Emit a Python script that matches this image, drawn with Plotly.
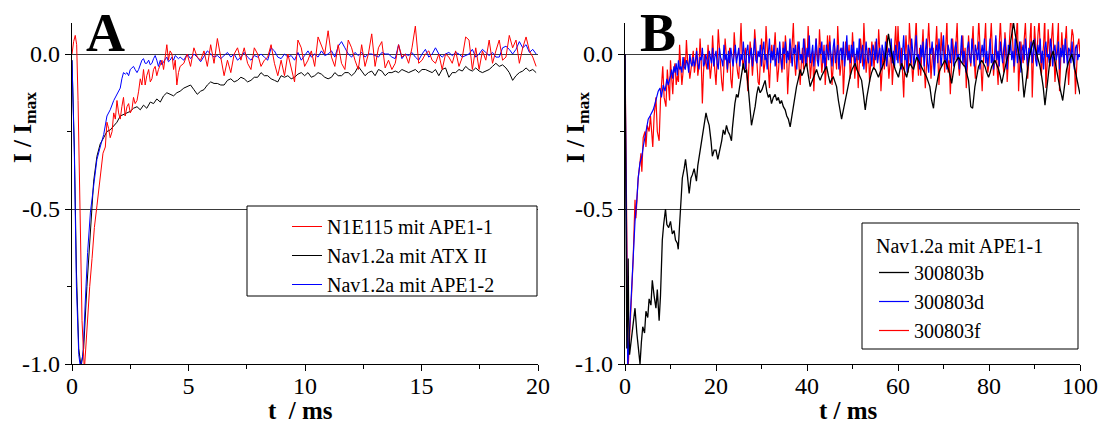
import plotly.graph_objects as go

W, H = 1103, 428
# ---------------- Panel A data ----------------
red_a_t_early = [0, 0.07, 0.14, 0.2, 0.26, 0.33, 0.43, 0.53, 0.6, 0.68,
                 0.76, 0.86, 0.96, 1.07, 1.19, 1.26, 1.33, 1.43, 1.5, 1.57,
                 1.64, 1.72, 1.79, 1.86, 1.93, 2.0, 2.07, 2.14, 2.21, 2.28,
                 2.36, 2.43, 2.5, 2.57, 2.64, 2.71, 2.79, 2.86, 2.93, 3.0,
                 3.07, 3.14, 3.21, 3.29, 3.36, 3.43, 3.5, 3.57, 3.64, 3.71,
                 3.79, 3.86, 3.93, 4.0, 4.07, 4.14, 4.21, 4.29, 4.36, 4.43,
                 4.5, 4.57, 4.64]
red_a_v_early = [0.0, 0.04, 0.06, 0.03, -0.15, -0.5, -0.86, -1.02, -0.93, -0.82,
                 -0.75, -0.66, -0.56, -0.49, -0.41, -0.38, -0.32, -0.3, -0.22, -0.24,
                 -0.27, -0.25, -0.19, -0.21, -0.15, -0.19, -0.21, -0.17, -0.14, -0.2,
                 -0.17, -0.16, -0.19, -0.18, -0.14, -0.16, -0.15, -0.12, -0.08, -0.1,
                 -0.05, -0.1, -0.07, -0.05, -0.09, -0.08, -0.05, -0.04, -0.07, -0.05,
                 -0.03, -0.02, -0.05, -0.01, 0.03, -0.02, 0.01, 0.0, -0.05, -0.02,
                 -0.1, -0.06, -0.04]
red_a_v_late = [-0.03, 0.00, -0.04, 0.02, -0.01, -0.02, 0.01, -0.04, 0.03, -0.03,
                0.05, -0.01, -0.07, -0.02, -0.06, 0.00, 0.02, -0.02, 0.02, -0.03,
                -0.05, 0.02, 0.00, -0.04, -0.02, -0.01, 0.03, -0.03, -0.07, -0.02,
                -0.07, 0.00, -0.05, -0.09, 0.045, 0.02, -0.04, -0.02, 0.01, -0.04,
                0.055, 0.03, 0.00, 0.075, -0.01, -0.04, 0.03, -0.03, -0.05, 0.045,
                0.02, -0.02, -0.05, 0.03, -0.04, 0.00,
                0.065, -0.04, 0.02, 0.04, -0.045, -0.02, -0.05, -0.03, 0.03, -0.01,
                0.00, -0.03, 0.02, 0.09, -0.03, -0.02, 0.00, 0.01, -0.02, -0.03,
                0.00, -0.05, 0.00, -0.01, -0.03, 0.01, -0.04, -0.01, 0.055, 0.045,
                -0.05, 0.02, -0.05, 0.01, -0.02, 0.045, -0.03, 0.01, 0.045, -0.02,
                -0.01, 0.06, 0.02, 0.045, -0.03, 0.02, 0.055, 0.01, -0.01, -0.04]

blk_a_t_early = [0, 0.1, 0.19, 0.29, 0.39, 0.5, 0.64, 0.79, 0.93, 1.07,
                 1.21, 1.36, 1.5, 1.64, 1.79, 1.93, 2.07, 2.21, 2.36, 2.5,
                 2.64, 2.79, 2.93, 3.07, 3.21, 3.36, 3.5, 3.64, 3.79, 3.93,
                 4.07, 4.21, 4.36, 4.5, 4.64]
blk_a_v_early = [-0.02, -0.3, -0.7, -0.95, -1.01, -0.95, -0.75, -0.56, -0.41, -0.33,
                 -0.29, -0.27, -0.25, -0.245, -0.23, -0.22, -0.2, -0.195, -0.19, -0.185,
                 -0.175, -0.17, -0.18, -0.165, -0.175, -0.155, -0.16, -0.145, -0.155, -0.135,
                 -0.125, -0.13, -0.135, -0.125, -0.12]
blk_a_v_late = [-0.11, -0.105, -0.10, -0.115, -0.13, -0.12, -0.115, -0.10, -0.09, -0.095,
                -0.095, -0.10, -0.10, -0.085, -0.08, -0.09, -0.085, -0.075, -0.08, -0.09,
                -0.085, -0.075, -0.075, -0.06, -0.07, -0.07, -0.08, -0.085, -0.09, -0.07,
                -0.075, -0.07, -0.08, -0.075, -0.065, -0.06, -0.07, -0.06, -0.075, -0.07,
                -0.06, -0.065, -0.075, -0.08, -0.075, -0.06, -0.07, -0.07, -0.06, -0.06,
                -0.07, -0.06, -0.04, -0.055, -0.07, -0.06,
                -0.055, -0.07, -0.05, -0.055, -0.07, -0.06, -0.06, -0.055, -0.06, -0.05,
                -0.055, -0.06, -0.055, -0.05, -0.06, -0.05, -0.05, -0.055, -0.06, -0.05,
                -0.07, -0.05, -0.045, -0.075, -0.06, -0.06, -0.05, -0.055, -0.04, -0.05,
                -0.055, -0.045, -0.055, -0.06, -0.055, -0.05, -0.04, -0.03, -0.04, -0.035,
                -0.045, -0.06, -0.085, -0.07, -0.06, -0.055, -0.045, -0.055, -0.05, -0.06]

blu_a_t_early = [0, 0.1, 0.19, 0.29, 0.36, 0.47, 0.57, 0.67, 0.79, 0.93,
                 1.07, 1.21, 1.36, 1.5, 1.64, 1.79, 1.93, 2.07, 2.14, 2.21,
                 2.29, 2.36, 2.43, 2.5, 2.57, 2.64, 2.71, 2.79, 2.86, 2.93,
                 3.0, 3.07, 3.14, 3.21, 3.29, 3.36, 3.43, 3.5, 3.57, 3.64,
                 3.71, 3.79, 3.86, 3.93, 4.0, 4.07, 4.14, 4.21, 4.29, 4.36,
                 4.43, 4.5, 4.57, 4.64]
blu_a_v_early = [-0.02, -0.32, -0.75, -0.97, -1.01, -0.97, -0.8, -0.64, -0.51, -0.43,
                 -0.34, -0.3, -0.26, -0.2, -0.18, -0.15, -0.13, -0.11, -0.08, -0.06,
                 -0.065, -0.06, -0.07, -0.05, -0.045, -0.04, -0.05, -0.06, -0.05, -0.035,
                 -0.02, -0.015, -0.03, -0.03, -0.02, -0.035, -0.03, -0.015, -0.005, -0.02,
                 -0.04, -0.02, -0.035, -0.025, -0.015, -0.01, -0.025, -0.02, -0.01, -0.02,
                 -0.005, -0.01, -0.015, -0.01]
blu_a_v_late = [-0.02, 0.00, -0.015, 0.00, -0.01, -0.025, -0.005, 0.01, 0.00, -0.01,
                -0.005, -0.015, -0.005, 0.005, -0.01, 0.00, -0.02, -0.01, 0.005, -0.01,
                -0.02, -0.005, -0.01, 0.00, -0.01, -0.02, 0.02, 0.01, -0.01, -0.015,
                0.00, -0.01, -0.005, -0.02, 0.005, -0.02, -0.005, 0.01, -0.01, 0.00,
                -0.01, 0.01, -0.005, 0.00, 0.01, -0.01, 0.025, 0.04, 0.02, 0.00,
                -0.01, 0.005, -0.005, 0.005, -0.01, 0.00,
                0.00, -0.005, -0.01, 0.005, 0.00, 0.00, -0.01, -0.015, 0.03, -0.015,
                0.00, -0.005, 0.005, -0.01, -0.02, 0.00, 0.015, -0.01, 0.00, 0.02,
                0.00, -0.01, 0.00, 0.005, -0.005, 0.005, 0.00, -0.01, -0.005, 0.00,
                0.015, -0.01, 0.00, 0.015, 0.005, -0.005, 0.005, -0.01, -0.01, 0.02,
                0.025, 0.015, 0.00, 0.015, 0.04, 0.02, 0.03, 0.005, 0.015, 0.00]

A_LATE_T0, A_LATE_DT = 4.8, 0.144   # sampling of the later part of the A records

# ---------------- Panel B data ----------------
blk_b_t = [0, 0.2, 0.4, 0.6, 0.7, 0.8, 1.0, 1.4, 1.8, 2.2,
           2.6, 3.0, 3.3, 3.6, 3.9, 4.3, 4.6, 5.0, 5.3, 5.7,
           6.0, 6.4, 6.8, 7.1, 7.5, 7.8, 8.2, 8.5, 8.9, 9.2,
           9.6, 10.0, 10.4, 10.8, 11.1, 11.5, 11.7, 12.0, 12.2, 12.6,
           13.0, 13.3, 13.7, 14.1, 14.5, 14.8, 15.2, 15.7, 16.0, 16.3,
           16.7, 17.0, 17.4, 17.8, 18.1, 18.5, 18.9, 19.2, 19.6, 20.0,
           20.4, 20.9,
           21.25, 21.6, 21.95, 22.3, 22.65, 23.0, 23.4, 23.6, 23.8, 24.15,
           24.5, 24.85, 25.2, 25.6, 26.0, 26.35, 26.7, 27.1, 27.5, 27.8,
           28.2, 28.6, 28.95, 29.3, 29.7, 30.1, 30.45, 30.8, 31.15, 31.5,
           31.85, 32.2, 32.6, 33.0, 33.35, 33.7, 34.05, 34.4, 34.8, 35.2,
           35.55, 35.9, 36.3, 36.65, 37.0, 37.35, 37.7, 38.1, 38.5, 38.85,
           39.2, 39.55, 39.9, 40.3, 40.7, 41.05, 41.4, 41.75, 42.1, 42.5,
           42.9, 43.25, 43.6, 43.95, 44.3, 44.7, 45.1, 45.45, 45.8, 46.15,
           46.5, 46.9, 47.3, 47.6, 48.0, 48.4, 48.75, 49.1, 49.5, 49.9,
           50.25, 50.6, 50.95, 51.3, 51.65, 52.0, 52.4, 52.8, 53.15, 53.5,
           53.85, 54.2, 54.6, 55.0, 55.35, 55.7, 56.05, 56.4, 56.75, 57.1,
           57.5, 57.9, 58.25, 58.6, 59.0, 59.4, 59.75, 60.1, 60.45, 60.8,
           61.2, 61.55, 61.9, 62.25, 62.6, 63.0, 63.4, 63.75, 64.1, 64.45,
           64.8, 65.2, 65.6, 65.95, 66.3, 66.65, 67.0, 67.4, 67.8, 68.1,
           68.5, 68.9, 69.25, 69.6, 69.95, 70.3, 70.7, 71.1, 71.45, 71.8,
           72.15, 72.5, 72.9, 73.3, 73.65, 74.0, 74.35, 74.7, 75.1, 75.5,
           76.0, 76.4, 76.9, 77.3, 77.7, 78.05, 78.4, 78.75, 79.1, 79.5,
           79.9, 80.25, 80.6, 80.95, 81.3, 81.7, 82.1, 82.45, 82.8, 83.15,
           83.5, 83.9, 84.3, 84.65, 85.0, 85.4, 85.75, 86.1, 86.5, 86.85,
           87.2, 87.7, 88.0, 88.3, 88.65, 89.0, 89.4, 89.8, 90.15, 90.5,
           90.85, 91.2, 91.55, 91.9, 92.3, 92.8, 93.1, 93.4, 93.75, 94.1,
           94.45, 94.8, 95.2, 95.6, 96.2, 96.7, 97.05, 97.4, 97.8, 98.2,
           98.55, 98.9, 99.25, 99.6, 100.0]
blk_b_v = [0.0, -0.5, -0.95, -0.8, -0.66, -0.85, -0.97, -0.92, -0.86, -0.82,
           -0.9, -0.96, -1.0, -0.93, -0.88, -0.9, -0.83, -0.85, -0.79, -0.81,
           -0.73, -0.78, -0.82, -0.76, -0.86, -0.78, -0.6, -0.55, -0.5, -0.55,
           -0.56, -0.54, -0.58, -0.57, -0.6, -0.61, -0.63, -0.55, -0.5, -0.4,
           -0.37, -0.34, -0.39, -0.45, -0.4, -0.39, -0.37, -0.41, -0.36, -0.33,
           -0.3, -0.26, -0.22, -0.19, -0.21, -0.23, -0.28, -0.33, -0.31, -0.31,
           -0.34, -0.31,
           -0.28, -0.245, -0.26, -0.23, -0.25, -0.26, -0.28, -0.24, -0.2, -0.16,
           -0.13, -0.14, -0.105, -0.07, -0.03, -0.06, -0.05, -0.11, -0.18, -0.23,
           -0.2, -0.17, -0.13, -0.105, -0.125, -0.115, -0.1, -0.085, -0.12, -0.14,
           -0.13, -0.16, -0.14, -0.13, -0.15, -0.14, -0.16, -0.15, -0.17, -0.18,
           -0.2, -0.21, -0.235, -0.2, -0.16, -0.13, -0.105, -0.08, -0.05, -0.07,
           -0.06, -0.04, -0.03, -0.07, -0.105, -0.09, -0.075, -0.06, -0.05, -0.07,
           -0.085, -0.07, -0.06, -0.05, -0.04, -0.07, -0.095, -0.08, -0.075, -0.09,
           -0.105, -0.15, -0.19, -0.21, -0.18, -0.15, -0.12, -0.105, -0.07, -0.05,
           -0.04, -0.03, -0.05, -0.06, -0.075, -0.085, -0.13, -0.18, -0.14, -0.105,
           -0.08, -0.06, -0.045, -0.05, -0.065, -0.075, -0.06, -0.05, -0.035, -0.02,
           0.03, 0.065, 0.03, 0.0, -0.03, -0.05, -0.065, -0.075, -0.05, -0.03,
           -0.045, -0.06, -0.075, -0.05, -0.03, -0.04, -0.05, -0.03, -0.01, -0.02,
           -0.03, -0.04, -0.05, -0.06, -0.075, -0.09, -0.105, -0.15, -0.175, -0.13,
           -0.09, -0.065, -0.05, -0.04, -0.03, -0.02, -0.035, -0.05, -0.07, -0.095,
           -0.06, -0.03, -0.02, -0.01, -0.02, -0.03, -0.035, -0.04, -0.06, -0.085,
           -0.17, -0.175, -0.105, -0.07, -0.04, -0.03, -0.02, -0.03, -0.04, -0.06,
           -0.075, -0.06, -0.04, -0.03, -0.02, -0.035, -0.05, -0.07, -0.095, -0.07,
           -0.04, -0.02, 0.0, 0.03, 0.065, 0.1, 0.065, 0.04, 0.01, -0.02,
           -0.05, -0.14, -0.1, -0.065, -0.03, 0.0, 0.02, 0.045, 0.02, 0.0,
           -0.02, -0.04, -0.07, -0.105, -0.165, -0.095, -0.05, -0.02, -0.005, 0.01,
           -0.02, -0.05, -0.08, -0.11, -0.15, -0.085, -0.05, -0.03, -0.015, 0.0,
           -0.025, -0.05, -0.08, -0.105, -0.13]

blu_b_t_early = [0, 0.2, 0.4, 0.6, 0.8, 1.1, 1.5, 1.8, 2.2, 2.6,
                 2.9, 3.3, 3.7, 4.0, 4.4, 4.8, 5.1, 5.5, 5.9, 6.2,
                 6.6, 7.0, 7.3, 7.7, 8.0, 8.4, 8.8, 9.2, 9.5]
blu_b_v_early = [0.0, -0.3, -0.8, -1.01, -0.95, -0.86, -0.75, -0.64, -0.54, -0.47,
                 -0.4, -0.35, -0.33, -0.3, -0.27, -0.23, -0.21, -0.2, -0.19, -0.18,
                 -0.16, -0.14, -0.12, -0.11, -0.14, -0.1, -0.12, -0.08, -0.1]
blu_b_v_late = [-0.07, -0.05, -0.08, -0.04, -0.06, -0.03, -0.07, -0.02, -0.05, -0.04, -0.06, -0.01, -0.04, -0.05, -0.02, -0.03, -0.06, 0.0, -0.03, -0.04,
                -0.01, -0.04, -0.02, 0.01, -0.03, -0.05, -0.01, -0.02, 0.02, -0.04, -0.03, 0.0, -0.02, -0.05, 0.01, -0.01, -0.03, 0.02, -0.04, -0.01,
                0.01, -0.03, -0.05, 0.02, -0.01, -0.02, -0.04, 0.03, -0.02, 0.0, -0.05, 0.01, -0.03, 0.02, -0.01, -0.04, 0.0, 0.03, -0.03, -0.01,
                0.02, -0.04, 0.0, -0.02, 0.04, -0.01, -0.05, 0.01, 0.03, -0.03, -0.01, 0.02, -0.04, 0.0, 0.05, -0.02, -0.03, 0.01, -0.01, 0.03,
                -0.04, 0.01, 0.04, -0.02, 0.0, -0.05, 0.02, 0.05, -0.03, 0.01, -0.02, 0.03, -0.04, 0.0, 0.02, -0.03, 0.04, -0.01, -0.05, 0.02,
                0.0, 0.04, -0.03, 0.01, -0.02, 0.05, -0.01, -0.04, 0.02, 0.0, 0.03, -0.05, 0.01, 0.04, -0.02, 0.0, -0.03, 0.05, 0.01, -0.04,
                0.02, -0.01, 0.06, -0.03, 0.0, 0.03, -0.04, 0.01, 0.05, -0.02, -0.04, 0.02, 0.0, 0.04, -0.03, 0.01, -0.05, 0.03, 0.0, -0.02,
                0.04, -0.01, -0.04, 0.02, 0.05, -0.03, 0.0, 0.03, -0.05, 0.01, 0.02, -0.02, 0.04, -0.04, 0.0, 0.06, -0.02, 0.01, -0.03, 0.03,
                -0.01, 0.04, -0.04, 0.0, 0.02, -0.02, 0.05, -0.03, 0.01, 0.03, -0.05, 0.0, 0.04, -0.01, -0.03, 0.02, 0.0, -0.04, 0.03, 0.01,
                -0.02, 0.05, -0.03, 0.0, 0.02, -0.05, 0.03, 0.01, -0.02, 0.04, -0.04, 0.0, 0.02, -0.01, 0.05, -0.03, 0.01, -0.04, 0.03, 0.0,
                -0.03, 0.04, 0.01, -0.05, 0.02, 0.06, -0.02, 0.0, -0.06, 0.03, 0.01, -0.03, 0.05, -0.01, -0.04, 0.02, 0.06, -0.02, 0.0, -0.05,
                0.03, -0.01, 0.04, -0.04, 0.01, 0.05, -0.03, -0.06, 0.02, 0.0, 0.04, -0.02, -0.07, 0.01, 0.03, -0.03, 0.05, 0.0, -0.04, 0.02,
                0.06, -0.02, 0.0, -0.05, 0.03, 0.01, -0.03, 0.05, -0.01, -0.04, 0.02, 0.04, -0.02, 0.0, -0.05, 0.03, 0.06, -0.03, 0.01, -0.02,
                -0.06, 0.02, 0.04, -0.01, -0.03, 0.05, 0.0, -0.04, 0.03, 0.01, -0.02, 0.04, -0.05, 0.0, 0.03, -0.01, 0.05, -0.03, 0.01, -0.04,
                0.02, 0.05, -0.03, 0.0, -0.05, 0.03, 0.06, -0.02, 0.01, -0.04, 0.04, 0.0, -0.03, 0.02, 0.05, -0.01, -0.05, 0.03, 0.0, 0.04,
                -0.02, 0.01, -0.04, 0.05, 0.02, -0.03, 0.0, 0.04, -0.06, 0.01, 0.03, -0.02, 0.05, -0.01, -0.04, 0.02, 0.0, 0.04, -0.03, 0.01,
                0.05, -0.02, -0.04, 0.03, 0.0, 0.05, -0.03, 0.01, -0.05, 0.02, 0.04, -0.01, 0.0, -0.03, 0.05, 0.02, -0.04, 0.01, 0.03, -0.02,
                0.0, 0.04, -0.05, 0.02, -0.01, 0.03, -0.03, 0.05, 0.0, -0.04, 0.02, 0.01, -0.03, 0.04, -0.01, -0.05, 0.02, 0.03, -0.02, 0.0,
                -0.01]

red_b_t_early = [0, 0.2, 0.4, 0.5, 0.7, 0.9, 1.2, 1.5, 1.8, 2.2,
                 2.4, 2.7, 2.9, 3.3, 3.5, 3.7, 4.0, 4.4, 4.6, 4.9,
                 5.3, 5.6, 6.1, 6.4, 6.8, 7.1, 7.5, 7.8, 8.3, 8.6,
                 9.0, 9.3, 9.8]
red_b_v_early = [0.0, -0.35, -0.65, -0.8, -1.01, -0.95, -0.85, -0.78, -0.66, -0.47,
                 -0.53, -0.45, -0.4, -0.35, -0.32, -0.38, -0.27, -0.25, -0.3, -0.23,
                 -0.25, -0.2, -0.3, -0.2, -0.14, -0.25, -0.28, -0.15, -0.04, -0.14,
                 -0.17, -0.05, -0.15]
red_b_v_late = [-0.02, -0.09, -0.13, -0.05, -0.03, -0.1, -0.07, -0.09, 0.03, -0.04, -0.1, -0.06, -0.01, -0.05, 0.045, -0.02, -0.04, -0.08, -0.05, -0.02,
                0.01, -0.06, -0.03, 0.02, -0.07, -0.04, 0.05, -0.02, -0.16, -0.06, 0.0, -0.03, -0.05, 0.03, -0.02, -0.08, -0.04, 0.06, -0.01, -0.05,
                -0.1, -0.02, 0.08, 0.02, -0.04, -0.09, -0.12, -0.03, 0.05, 0.0, -0.06, -0.02, 0.02, -0.08, -0.11, -0.04, 0.07, 0.01, -0.03, -0.06,
                -0.08, 0.03, 0.1, -0.01, -0.05, 0.0, 0.02, -0.06, -0.12, -0.03, 0.04, 0.0, -0.07, -0.02, 0.08, 0.03, -0.02, -0.09, -0.1, -0.01,
                0.05, 0.0, -0.06, -0.03, 0.09, 0.02, -0.04, -0.11, -0.02, 0.03, -0.02, 0.01, 0.07, -0.03, -0.09, -0.05, 0.01, -0.02, -0.06, 0.04,
                -0.05, 0.06, 0.01, -0.13, -0.07, 0.02, -0.03, 0.04, 0.1, -0.02, -0.07, -0.01, 0.04, -0.04, -0.1, -0.03, 0.02, -0.05, 0.05, -0.01,
                -0.04, 0.09, 0.02, -0.08, -0.03, 0.01, -0.12, -0.05, 0.05, 0.0, -0.03, 0.08, 0.01, -0.06, -0.02, 0.03, -0.1, -0.04, 0.06, -0.01,
                0.06, -0.02, -0.1, -0.04, 0.03, 0.0, -0.05, 0.09, 0.02, -0.07, -0.03, 0.02, -0.13, -0.06, 0.04, 0.0, -0.02, 0.03, -0.08, -0.03,
                0.07, 0.0, -0.08, -0.02, 0.0, -0.11, -0.04, 0.05, 0.01, -0.04, 0.1, 0.02, -0.06, -0.01, 0.02, -0.09, -0.03, 0.04, 0.0, -0.05,
                0.04, -0.01, -0.03, 0.08, 0.01, -0.12, -0.06, 0.01, -0.05, 0.02, 0.06, -0.02, -0.08, -0.03, 0.03, -0.1, -0.04, 0.05, 0.09, -0.02,
                0.09, 0.01, -0.04, 0.02, -0.06, -0.14, -0.02, 0.06, 0.0, -0.06, 0.1, 0.03, -0.02, -0.09, -0.03, 0.05, 0.11, -0.01, -0.07, 0.02,
                -0.07, 0.01, 0.08, -0.03, -0.11, -0.04, 0.04, 0.1, 0.02, -0.08, -0.02, 0.02, -0.05, 0.03, 0.09, -0.01, -0.1, -0.03, 0.07, 0.01,
                0.03, -0.06, 0.07, 0.11, -0.06, -0.02, -0.13, -0.05, 0.05, 0.0, -0.02, 0.04, 0.1, -0.03, -0.07, -0.01, 0.01, 0.06, -0.04, 0.02,
                -0.11, -0.04, 0.06, 0.0, -0.04, 0.03, 0.09, -0.02, -0.08, 0.01, 0.02, 0.11, 0.04, -0.05, -0.12, -0.03, 0.04, 0.1, -0.02, -0.06,
                -0.03, 0.05, 0.1, 0.01, -0.07, -0.02, 0.05, -0.04, -0.1, 0.03, 0.11, 0.02, -0.02, -0.06, 0.07, 0.02, -0.09, -0.03, 0.03, 0.11,
                0.11, 0.03, -0.06, -0.01, 0.08, 0.12, -0.12, -0.05, 0.04, 0.0, -0.03, 0.05, 0.1, 0.01, -0.08, -0.02, 0.06, 0.11, -0.14, -0.05,
                0.09, 0.03, -0.02, 0.06, 0.11, 0.02, -0.07, -0.01, 0.03, 0.12, -0.11, -0.04, 0.08, 0.02, -0.04, 0.05, 0.1, 0.0, -0.09, -0.03,
                0.05, 0.1, -0.12, -0.04, 0.07, 0.01, -0.03, 0.04, 0.09, -0.02, -0.1, -0.03, 0.02, 0.08, 0.06, -0.01, -0.13, -0.04, 0.03, 0.05,
                0.0]

B_LATE_T0, B_LATE_DT = 10.0, 0.25   # sampling of the later part of the B records

names_a = ["N1E115 mit APE1-1", "Nav1.2a mit ATX II", "Nav1.2a mit APE1-2"]
names_b = ["300803b", "300803d", "300803f"]
legend_b_title = "Nav1.2a mit APE1-1"

RED, BLUE, BLACK = "#ff0000", "#0000ff", "#000000"
FONT = "Liberation Serif, Times New Roman, Times, serif"


def late_times(t0, dt, n):
    return [round(t0 + dt * k, 4) for k in range(n)]


fig = go.Figure()

# Panel A traces (drawn black, blue, red; legend order red, black, blue)
fig.add_trace(go.Scatter(
    x=blk_a_t_early + late_times(A_LATE_T0, A_LATE_DT, len(blk_a_v_late)),
    y=blk_a_v_early + blk_a_v_late, mode="lines", name=names_a[1],
    line=dict(color=BLACK, width=1), xaxis="x", yaxis="y", legend="legend", legendrank=2))
fig.add_trace(go.Scatter(
    x=blu_a_t_early + late_times(A_LATE_T0, A_LATE_DT, len(blu_a_v_late)),
    y=blu_a_v_early + blu_a_v_late, mode="lines", name=names_a[2],
    line=dict(color=BLUE, width=1), xaxis="x", yaxis="y", legend="legend", legendrank=3))
fig.add_trace(go.Scatter(
    x=red_a_t_early + late_times(A_LATE_T0, A_LATE_DT, len(red_a_v_late)),
    y=red_a_v_early + red_a_v_late, mode="lines", name=names_a[0],
    line=dict(color=RED, width=1), xaxis="x", yaxis="y", legend="legend", legendrank=1))

# Panel B traces
fig.add_trace(go.Scatter(
    x=red_b_t_early + late_times(B_LATE_T0, B_LATE_DT, len(red_b_v_late)),
    y=red_b_v_early + red_b_v_late, mode="lines", name=names_b[2],
    line=dict(color=RED, width=1.2), xaxis="x2", yaxis="y2", legend="legend2", legendrank=3))
fig.add_trace(go.Scatter(
    x=blu_b_t_early + late_times(B_LATE_T0, B_LATE_DT, len(blu_b_v_late)),
    y=blu_b_v_early + blu_b_v_late, mode="lines", name=names_b[1],
    line=dict(color=BLUE, width=1.2), xaxis="x2", yaxis="y2", legend="legend2", legendrank=2))
fig.add_trace(go.Scatter(
    x=blk_b_t, y=blk_b_v, mode="lines", name=names_b[0],
    line=dict(color=BLACK, width=1.3), xaxis="x2", yaxis="y2", legend="legend2", legendrank=1))

# geometry in pixels
TOP, BOT = 23, 364
PH = BOT - TOP
A_L, A_R = 72, 538
B_L, B_R = 625, 1080


def px(x):
    return x / W


def py(y):
    return (BOT - y) / PH


tickfont = dict(family=FONT, size=24, color="black")
common_x = dict(showline=True, linecolor="black", linewidth=1.3, ticks="outside", ticklen=6,
                tickwidth=1.2, tickcolor="black", showgrid=False, zeroline=False,
                tickfont=tickfont, ticklabelstandoff=-6, automargin=False)
common_y = dict(showline=True, linecolor="black", linewidth=1.3, ticks="outside", ticklen=6,
                tickwidth=1.2, tickcolor="black", showgrid=True, gridcolor="#3a3a3a",
                gridwidth=1, zeroline=False, tickfont=tickfont, range=[-1.0, 0.1],
                tickvals=[-1.0, -0.5, 0.0], ticktext=["-1.0", "-0.5", "0.0"],
                automargin=False,
                minor=dict(ticks="outside", ticklen=4, tickwidth=1.2, tickcolor="black",
                           tickvals=[-0.75, -0.25], showgrid=False))

legfont = dict(family=FONT, size=20, color="black")
fig.update_layout(
    template="none",
    width=W, height=H, autosize=False, plot_bgcolor="white", paper_bgcolor="white",
    margin=dict(l=0, r=0, t=TOP, b=H - BOT, pad=0, autoexpand=False),
    xaxis=dict(domain=[px(A_L), px(A_R)], range=[0, 20], tickvals=[0, 5, 10, 15, 20],
               minor=dict(ticks="outside", ticklen=4, tickwidth=1.2, tickcolor="black",
                          tickvals=[2.5, 7.5, 12.5, 17.5]), anchor="y", **common_x),
    yaxis=dict(domain=[0, 1], anchor="x", **common_y),
    xaxis2=dict(domain=[px(B_L), px(B_R)], range=[0, 100], tickvals=[0, 20, 40, 60, 80, 100],
                minor=dict(ticks="outside", ticklen=4, tickwidth=1.2, tickcolor="black",
                           tickvals=[10, 30, 50, 70, 90]), anchor="y2", **common_x),
    yaxis2=dict(domain=[0, 1], anchor="x2", **common_y),
    legend=dict(x=px(287), y=py(207), xanchor="left", yanchor="top",
                bgcolor="rgba(0,0,0,0)", borderwidth=0, font=legfont, itemwidth=30),
    legend2=dict(x=px(874), y=py(227), xanchor="left", yanchor="top",
                 bgcolor="rgba(0,0,0,0)", borderwidth=0,
                 title=dict(text=legend_b_title, font=legfont),
                 font=legfont, itemwidth=30),
    showlegend=True,
)

# legend frames
fig.add_shape(type="rect", xref="paper", yref="paper", x0=px(247), x1=px(537),
              y0=py(296), y1=py(206), fillcolor="white", line=dict(color="black", width=1),
              layer="above")
fig.add_shape(type="rect", xref="paper", yref="paper", x0=px(862), x1=px(1078),
              y0=py(349), y1=py(223), fillcolor="white", line=dict(color="black", width=1),
              layer="above")

ann_font = dict(family=FONT, size=25, color="black")
for txt, x in (("<b>t\u00a0 / ms</b>", 300), ("<b>t / ms</b>", 848)):
    fig.add_annotation(text=txt, x=px(x), y=py(411), xref="paper", yref="paper",
                       showarrow=False, font=ann_font, xanchor="center", yanchor="middle")
for x in (25, 578):
    fig.add_annotation(text="<b>I / I<sub>max</sub></b>", x=px(x), y=py(128), xref="paper",
                       yref="paper", showarrow=False, font=ann_font, textangle=-90,
                       xanchor="center", yanchor="middle")
for txt, x in (("<b>A</b>", 105), ("<b>B</b>", 658)):
    fig.add_annotation(text=txt, x=px(x), y=py(33), xref="paper", yref="paper",
                       showarrow=False, font=dict(family=FONT, size=54, color="black"),
                       xanchor="center", yanchor="middle")

fig.write_html("out.html",
               config={"responsive": False, "displayModeBar": False},
               default_width="%dpx" % W, default_height="%dpx" % H,
               post_script="document.body.style.margin='0px';"
                           "document.body.style.overflow='hidden';")
